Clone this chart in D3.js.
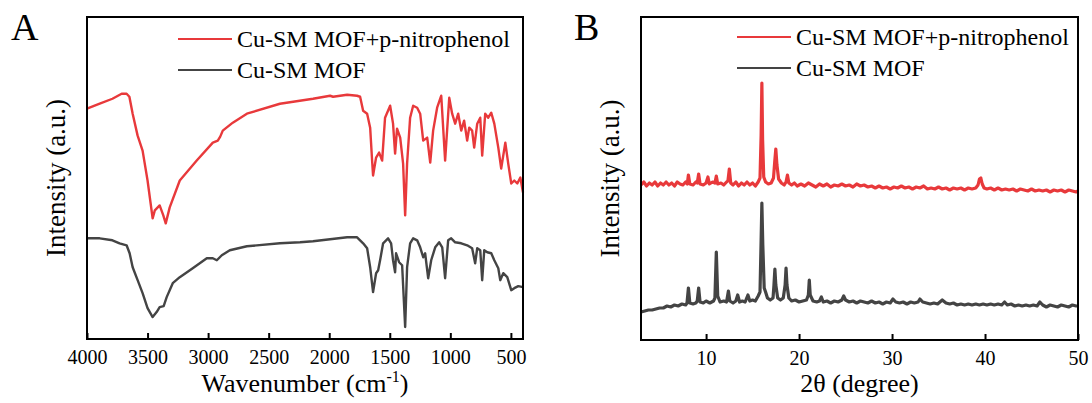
<!DOCTYPE html>
<html>
<head>
<meta charset="utf-8">
<script src="https://cdn.jsdelivr.net/npm/d3@7/dist/d3.min.js"></script>
<style>
  body { margin: 0; background: #fff; }
  svg text { font-family: "Liberation Serif", "Times New Roman", serif !important; fill: #000; }
</style>
</head>
<body>
<svg id="chart" width="1092" height="403"></svg>
<script>
// FTIR spectra, [wavenumber cm-1, intensity a.u.]
var ftirNitro = [
  [4000,231],[3895,236],[3790,241],[3714,246],[3673,246],[3650,243],[3623,226],[3582,204],
  [3541,189],[3500,159],[3458,121],[3440,129],[3400,134],[3370,124],[3350,116],[3317,132],
  [3234,159],[3094,179],[2961,197],[2920,199],[2900,203],[2879,209],[2796,217],[2680,226],
  [2407,236],[2134,241],[1993,244],[1968,243],[1852,245],[1770,244],[1745,243],[1720,229],
  [1687,226],[1662,212],[1646,179],[1638,164],[1613,182],[1588,187],[1563,179],[1539,222],
  [1497,234],[1473,216],[1456,186],[1440,211],[1414,202],[1390,176],[1373,124],[1357,176],
  [1332,222],[1307,234],[1274,232],[1249,226],[1224,199],[1191,202],[1166,177],[1142,209],
  [1109,232],[1075,244],[1043,179],[1009,242],[985,226],[960,216],[935,226],[910,209],
  [886,219],[861,199],[844,212],[820,209],[803,192],[778,216],[753,222],[737,184],
  [712,226],[687,222],[662,227],[637,216],[604,192],[580,171],[546,197],[522,176],
  [497,156],[472,159],[447,156],[422,162],[400,147]
];
var ftirMof = [
  [4000,101],[3895,101],[3790,99],[3731,96],[3673,94],[3648,86],[3623,72],[3582,59],
  [3541,46],[3500,31],[3458,22],[3425,27],[3400,32],[3367,33],[3342,42],[3292,56],
  [3234,62],[3127,71],[3011,81],[2961,81],[2928,79],[2887,84],[2821,89],[2680,93],
  [2407,96],[2241,97],[2134,98],[1852,102],[1770,102],[1745,99],[1720,96],[1687,91],
  [1662,72],[1638,47],[1613,66],[1596,69],[1580,79],[1555,96],[1514,101],[1489,96],
  [1473,79],[1456,67],[1448,86],[1423,77],[1398,74],[1373,12],[1357,72],[1332,96],
  [1307,101],[1274,99],[1249,92],[1224,82],[1208,86],[1183,61],[1158,79],[1125,92],
  [1092,97],[1067,92],[1043,61],[1018,99],[993,101],[960,97],[910,96],[861,94],
  [820,91],[795,76],[778,91],[753,89],[737,59],[720,89],[695,87],[662,86],
  [637,79],[604,71],[588,59],[563,66],[530,62],[497,49],[472,51],[439,53],[400,52]
];
var ftirTicks = [4000, 3500, 3000, 2500, 2000, 1500, 1000, 500];

// XRD patterns, [2theta degree, intensity a.u.]
var xrdNitro = [
  [3.0,155],[3.3,158],[3.6,154],[3.9,157],[4.2,155],[4.5,158],[4.8,154],[5.1,157],[5.4,155],
  [5.7,158],[6.0,155],[6.3,157],[6.6,154],[6.9,158],[7.2,156],[7.5,155],[7.8,158],[7.98,156],
  [8.1,165],[8.25,156],[8.6,155],[8.9,158],[9.05,157],[9.2,166],[9.35,156],[9.7,155],[10.0,157],
  [10.2,163],[10.35,156],[10.7,158],[10.95,157],[11.1,164],[11.25,156],[11.6,157],[11.9,155],
  [12.2,158],[12.35,159],[12.5,171],[12.65,157],[12.9,155],[13.2,158],[13.5,154],[13.8,157],
  [14.1,155],[14.4,158],[14.7,155],[15.0,157],[15.3,154],[15.6,158],[15.8,162],[15.92,205],
  [16.0,257],[16.08,200],[16.2,163],[16.4,158],[16.7,156],[17.0,157],[17.25,162],[17.38,178],
  [17.5,191],[17.62,175],[17.8,161],[18.1,157],[18.4,155],[18.6,158],[18.75,165],[18.9,157],
  [19.2,155],[19.5,157],[19.8,154],[20.2,156],[20.6,154],[21.0,157],[21.4,155],[21.8,153],
  [22.2,156],[22.6,154],[23.0,156],[23.4,153],[23.8,155],[24.2,154],[24.6,156],[25.0,154],
  [25.4,155],[25.8,153],[26.2,156],[26.6,154],[27.0,155],[27.4,153],[27.8,154],[28.2,152],
  [28.6,154],[29.0,152],[29.4,153],[29.8,151],[30.2,153],[30.6,152],[31.0,154],[31.4,152],
  [31.8,153],[32.2,151],[32.6,153],[33.0,152],[33.4,154],[33.8,151],[34.2,152],[34.6,151],
  [35.0,153],[35.4,151],[35.8,152],[36.2,150],[36.6,152],[37.0,151],[37.4,152],[37.8,150],
  [38.2,152],[38.6,151],[39.0,152],[39.25,155],[39.4,161],[39.55,162],[39.7,156],[39.9,152],
  [40.2,151],[40.6,152],[41.0,150],[41.4,152],[41.8,150],[42.2,151],[42.6,150],[43.0,151],
  [43.4,149],[43.8,151],[44.2,150],[44.6,149],[45.0,151],[45.4,149],[45.8,150],[46.2,149],
  [46.6,150],[47.0,148],[47.4,150],[47.8,149],[48.2,150],[48.6,148],[49.0,150],[49.4,149],
  [49.8,148],[50.0,149]
];
var xrdMof = [
  [3.0,28],[3.4,29],[3.8,30],[4.2,30],[4.6,31],[5.0,32],[5.4,32],[5.8,34],[6.2,33],[6.6,35],
  [7.0,34],[7.4,36],[7.8,35],[7.95,37],[8.1,52],[8.25,37],[8.6,36],[8.9,37],[9.05,39],[9.2,52],
  [9.35,38],[9.7,37],[10.0,39],[10.4,37],[10.8,39],[10.95,42],[11.1,88],[11.25,44],[11.5,38],
  [11.9,39],[12.2,38],[12.4,49],[12.55,39],[12.9,37],[13.2,39],[13.4,45],[13.6,38],[13.9,39],
  [14.2,38],[14.5,45],[14.7,39],[15.0,40],[15.3,39],[15.6,44],[15.8,48],[15.92,100],[16.0,137],
  [16.1,95],[16.25,52],[16.4,48],[16.6,42],[16.9,40],[17.2,42],[17.3,55],[17.4,71],[17.5,55],
  [17.7,42],[18.0,40],[18.3,42],[18.5,55],[18.6,72],[18.7,55],[18.9,42],[19.2,39],[19.6,40],
  [20.0,38],[20.4,39],[20.8,40],[21.0,45],[21.1,60],[21.2,45],[21.5,39],[21.9,38],[22.2,39],
  [22.4,43],[22.6,38],[23.0,39],[23.4,37],[23.8,39],[24.2,38],[24.6,40],[24.8,44],[25.0,40],
  [25.4,38],[25.8,39],[26.2,37],[26.6,39],[27.0,38],[27.4,37],[27.8,39],[28.2,37],[28.6,38],
  [29.0,36],[29.4,38],[29.8,37],[30.1,41],[30.4,38],[30.8,37],[31.2,38],[31.6,36],[32.0,38],
  [32.4,37],[32.8,38],[33.0,41],[33.3,38],[33.7,37],[34.1,36],[34.5,37],[34.9,36],[35.4,40],
  [35.8,37],[36.2,36],[36.6,37],[37.0,35],[37.4,36],[37.8,35],[38.2,36],[38.6,35],[39.0,36],
  [39.4,35],[39.8,36],[40.2,35],[40.6,36],[41.0,35],[41.4,36],[41.8,35],[42.1,38],[42.4,35],
  [42.8,36],[43.2,34],[43.6,35],[44.0,34],[44.4,35],[44.8,34],[45.2,35],[45.6,34],[45.9,38],
  [46.2,35],[46.6,33],[47.0,35],[47.4,34],[47.8,33],[48.2,35],[48.6,34],[49.0,33],[49.4,35],
  [49.8,34],[50.0,34]
];
var xrdTicks = [10, 20, 30, 40, 50];

var legendNames = ["Cu-SM MOF+p-nitrophenol", "Cu-SM MOF"];
var red = "#e8393b", grey = "#444444";

var svg = d3.select("#chart");

function panel(opt) {
    var g = svg.append("g");
    var x = d3.scaleLinear().domain(opt.xDomain).range([opt.left, opt.right]);
    var y = d3.scaleLinear().domain([0, 323]).range([opt.bottom, opt.top]);

    var line = d3.line()
        .x(d => x(d[0]))
        .y(d => y(d[1]));

    g.append("path").datum(opt.top2)
        .attr("d", line).attr("fill", "none")
        .attr("stroke", red).attr("stroke-width", opt.sw).attr("stroke-linejoin", "round");
    g.append("path").datum(opt.bottom2)
        .attr("d", line).attr("fill", "none")
        .attr("stroke", grey).attr("stroke-width", opt.sw).attr("stroke-linejoin", "round");

    // frame
    g.append("rect")
        .attr("x", opt.left).attr("y", opt.top)
        .attr("width", opt.right - opt.left).attr("height", opt.bottom - opt.top)
        .attr("fill", "none").attr("stroke", "#000").attr("stroke-width", 2);

    // bottom axis, ticks inward
    var axis = d3.axisBottom(x).tickValues(opt.ticks).tickFormat(d3.format("d"))
        .tickSizeInner(-6).tickSizeOuter(0).tickPadding(11);
    var ax = g.append("g").attr("transform", "translate(0," + opt.bottom + ")").call(axis);
    ax.select(".domain").remove();
    ax.attr("font-family", null);
    ax.selectAll(".tick line").attr("stroke", "#000").attr("stroke-width", 2);
    ax.selectAll(".tick text").attr("font-size", 20).attr("fill", "#000");

    // y title
    g.append("text")
        .attr("transform", "translate(" + (opt.left - 22) + "," + ((opt.top + opt.bottom) / 2) + ") rotate(-90)")
        .attr("text-anchor", "middle").attr("font-size", 27)
        .text("Intensity (a.u.)");

    // x title
    var xt = g.append("text")
        .attr("x", (opt.left + opt.right) / 2).attr("y", 392)
        .attr("text-anchor", "middle").attr("font-size", 26);
    opt.xTitle(xt);

    // panel letter
    g.append("text").attr("x", opt.letterX).attr("y", 40)
        .attr("font-size", 38).text(opt.letter);

    // legend
    legendNames.forEach(function (name, i) {
        var ly = opt.legY + i * 31;
        g.append("line")
            .attr("x1", opt.legX).attr("x2", opt.legX + 54)
            .attr("y1", ly).attr("y2", ly)
            .attr("stroke", i == 0 ? red : grey).attr("stroke-width", 2.2);
        g.append("text")
            .attr("x", opt.legX + 59).attr("y", ly + 8)
            .attr("font-size", 24).text(name);
    });
}

panel({
    left: 87, right: 523, top: 17, bottom: 339,
    xDomain: [4000, 400], ticks: ftirTicks,
    top2: ftirNitro, bottom2: ftirMof, sw: 2.4,
    letter: "A", letterX: 11,
    legX: 178, legY: 39,
    xTitle: function (t) {
        t.append("tspan").text("Wavenumber (cm");
        t.append("tspan").attr("font-size", 16).attr("dy", -10).text("-1");
        t.append("tspan").attr("dy", 10).text(")");
    }
});

panel({
    left: 641, right: 1078, top: 17, bottom: 340,
    xDomain: [3, 50], ticks: xrdTicks,
    top2: xrdNitro, bottom2: xrdMof, sw: 3.2,
    letter: "B", letterX: 574,
    legX: 737, legY: 37,
    xTitle: function (t) {
        t.text("2\u03b8 (degree)");
    }
});
</script>
</body>
</html>
